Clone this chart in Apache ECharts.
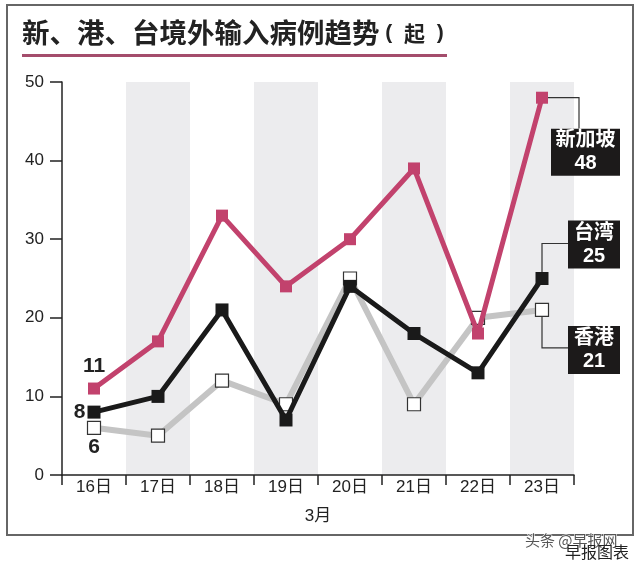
<!DOCTYPE html>
<html>
<head>
<meta charset="utf-8">
<script src="https://cdn.jsdelivr.net/npm/echarts@6/dist/echarts.min.js"></script>
<style>html,body{margin:0;padding:0;background:#fff}#c{width:640px;height:563px}</style>
</head>
<body>
<div id="c"></div>
<script>
const categories = ['16日','17日','18日','19日','20日','21日','22日','23日'];
const singapore = [11,17,33,24,30,39,18,48];
const taiwan = [8,10,21,7,24,18,13,25];
const hongkong = [6,5,12,9,25,9,20,21];
const seriesNames = ['新加坡','台湾','香港'];
const yMin = 0, yMax = 50, yStep = 10;
const xAxisName = '3月';
const titleMain = '新、港、台境外输入病例趋势';
const titleUnit = '起';

const FONT = '"Liberation Sans", "Noto Sans CJK SC", sans-serif';
const CJK = '"Noto Sans CJK SC", sans-serif';
const PINK = '#c2426d';

function withFirstLabel(arr, label) {
  return arr.map((v, i) => i === 0 ? { value: v, label: Object.assign({ show: true, formatter: String(v), fontFamily: FONT, fontWeight: 'bold', fontSize: 21, color: '#222' }, label) } : v);
}

const chart = echarts.init(document.getElementById('c'), null, { renderer: 'canvas' });
chart.setOption({
  animation: false,
  backgroundColor: '#fff',
  grid: { left: 62, right: 66, top: 82, bottom: 88 },
  xAxis: {
    type: 'category',
    data: categories,
    boundaryGap: true,
    name: xAxisName,
    nameLocation: 'middle',
    nameGap: 33,
    nameTextStyle: { fontFamily: FONT, fontSize: 17, color: '#222' },
    axisLine: { lineStyle: { color: '#222', width: 1.5 } },
    axisTick: { show: true, length: 10, lineStyle: { color: '#222', width: 1.5 } },
    axisLabel: { margin: 4, fontFamily: FONT, fontSize: 17, color: '#222' },
    splitArea: { show: true, areaStyle: { color: ['rgba(0,0,0,0)', '#ececee'] } },
    splitLine: { show: false }
  },
  yAxis: {
    type: 'value',
    min: yMin, max: yMax, interval: yStep,
    axisLine: { show: true, lineStyle: { color: '#222', width: 1.5 } },
    axisTick: { show: true, length: 12, lineStyle: { color: '#222', width: 1.5 } },
    axisLabel: { margin: 18, fontFamily: FONT, fontSize: 17, color: '#222' },
    splitLine: { show: false }
  },
  series: [
    {
      name: seriesNames[2], type: 'line', data: withFirstLabel(hongkong, { position: 'bottom', distance: 2 }),
      symbol: 'rect', symbolSize: 13, z: 2,
      lineStyle: { color: '#c4c4c4', width: 6 },
      itemStyle: { color: '#fff', borderColor: '#333', borderWidth: 1.2 }
    },
    {
      name: seriesNames[1], type: 'line', data: withFirstLabel(taiwan, { position: 'left', distance: 2 }),
      symbol: 'rect', symbolSize: 13, z: 3,
      lineStyle: { color: '#1a1a1a', width: 5 },
      itemStyle: { color: '#1a1a1a' }
    },
    {
      name: seriesNames[0], type: 'line', data: withFirstLabel(singapore, { position: 'top', distance: 6 }),
      symbol: 'rect', symbolSize: 12, z: 4,
      lineStyle: { color: PINK, width: 5 },
      itemStyle: { color: PINK }
    }
  ]
});

const last = categories.length - 1;
const pS = chart.convertToPixel({ seriesIndex: 2 }, [last, singapore[last]]);
const pT = chart.convertToPixel({ seriesIndex: 1 }, [last, taiwan[last]]);
const pH = chart.convertToPixel({ seriesIndex: 0 }, [last, hongkong[last]]);

function callout(points, box, text) {
  return [
    { type: 'polyline', z: 0, shape: { points }, style: { stroke: '#333', lineWidth: 1.2, fill: null } },
    { type: 'rect', z: 10, shape: box, style: { fill: '#1c1a1a' } },
    { type: 'text', z: 11, x: box.x + box.width / 2, y: box.y + box.height / 2,
      style: { text, fill: '#fff', fontFamily: FONT, fontWeight: 'bold', fontSize: 20, lineHeight: 23, align: 'center', verticalAlign: 'middle' } }
  ];
}

const els = [];
els.push(...callout([[pS[0], pS[1]], [pS[0] + 37, pS[1]], [pS[0] + 37, pS[1] + 31]],
  { x: pS[0] + 9, y: pS[1] + 31, width: 69, height: 47 }, seriesNames[0] + '\n' + singapore[last]));
els.push(...callout([[pT[0], pT[1]], [pT[0], pT[1] - 35], [pT[0] + 26, pT[1] - 35]],
  { x: pT[0] + 26, y: pT[1] - 58, width: 52, height: 48 }, seriesNames[1] + '\n' + taiwan[last]));
els.push(...callout([[pH[0], pH[1]], [pH[0], pH[1] + 38], [pH[0] + 26, pH[1] + 38]],
  { x: pH[0] + 26, y: pH[1] + 16, width: 52, height: 48 }, seriesNames[2] + '\n' + hongkong[last]));

els.push({ type: 'rect', z: -1, silent: true, shape: { x: 7, y: 5, width: 626, height: 530 }, style: { fill: null, stroke: '#666', lineWidth: 2 } });
els.push({ type: 'text', z: 5, x: 22, y: 33,
  style: { text: '{a|' + titleMain + '}{p|\u00a0(\u00a0\u00a0}{b|' + titleUnit + '}{p|\u00a0\u00a0)}', verticalAlign: 'middle',
    rich: {
      a: { fontFamily: CJK, fontWeight: 'bold', fontSize: 27.5, fill: '#222' },
      p: { fontFamily: FONT, fontWeight: 'bold', fontSize: 21, fill: '#222' },
      b: { fontFamily: CJK, fontWeight: 'bold', fontSize: 21, fill: '#222' }
    } } });
els.push({ type: 'rect', z: 5, shape: { x: 22, y: 54, width: 425, height: 3 }, style: { fill: '#a44d6c' } });
els.push({ type: 'text', z: 20, x: 525, y: 540, style: { text: '头条 @早报网', fontFamily: CJK, fontSize: 15, fill: '#555', verticalAlign: 'middle', stroke: '#fff', lineWidth: 1 } });
els.push({ type: 'text', z: 21, x: 565, y: 552, style: { text: '早报图表', fontFamily: CJK, fontSize: 16, fill: '#222', verticalAlign: 'middle' } });

chart.setOption({ graphic: { elements: els } });
</script>
</body>
</html>
